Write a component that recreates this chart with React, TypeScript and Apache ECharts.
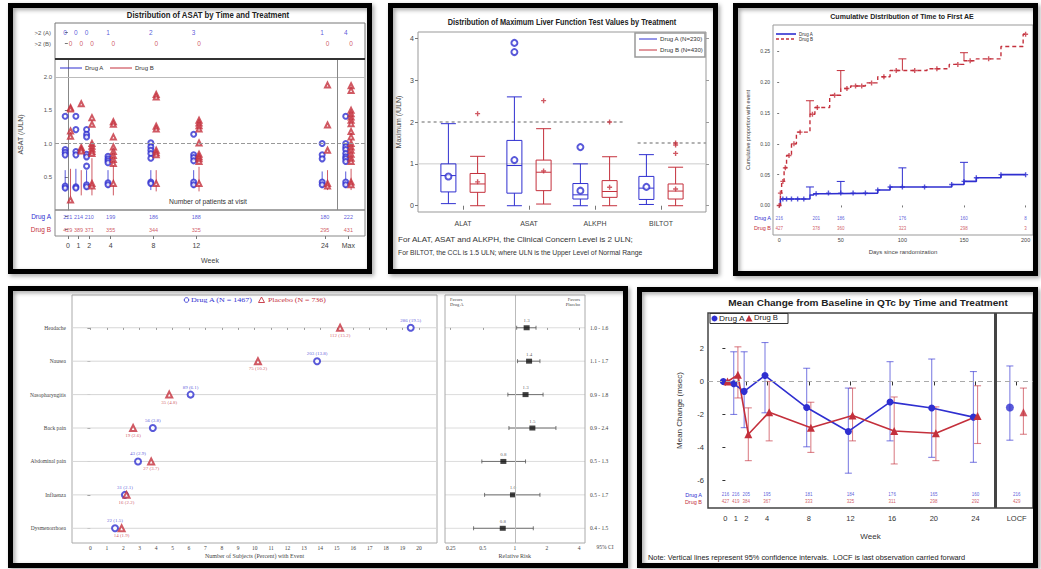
import React, { useEffect, useRef } from 'react';
import * as echarts from 'echarts';

const BLUE = '#2f2fd0';
const RED = '#c4303c';
const SANS = '"Liberation Sans", Arial, Helvetica, sans-serif';
const SERIF = '"Liberation Serif", "Times New Roman", serif';

/* ---------------- Panel 1: ASAT by time ---------------- */
const asatVisits: (number | string)[] = [0, 1, 2, 4, 8, 12, 24, 'Max'];
const asatOver2A = [0, 0, 0, 1, 2, 3, 1, 4];
const asatOver2B = [0, 0, 0, 0, 0, 0, 0, 0];
const asatNA = [221, 214, 210, 199, 186, 188, 180, 222];
const asatNB = [429, 389, 371, 355, 344, 325, 295, 431];
const asatValsA = [
  [1.41, 0.91, 0.87, 0.83, 0.36, 0.33],
  [1.41, 1.21, 0.88, 0.83, 0.35, 0.33],
  [1.21, 1.14, 1.1, 0.84, 0.8, 0.66, 0.38, 0.35],
  [0.81, 0.77, 0.74, 0.71, 0.41, 0.38],
  [1.01, 0.95, 0.9, 0.85, 0.78, 0.42, 0.4],
  [1.14, 0.83, 0.79, 0.74, 0.42, 0.38],
  [1.0, 0.83, 0.77, 0.42, 0.38],
  [1.41, 1.0, 0.95, 0.91, 0.85, 0.8, 0.77, 0.73, 0.42, 0.38],
];
const asatValsB = [
  [1.54, 1.52, 1.19, 1.11, 0.15],
  [1.6, 0.94, 0.91, 0.89],
  [1.39, 1.29, 1.0, 0.96, 0.92, 0.88, 0.85, 0.4, 0.36],
  [1.33, 1.29, 1.1, 0.95, 0.88, 0.82, 0.76, 0.7, 0.4],
  [1.74, 1.7, 1.26, 1.22, 0.9, 0.86, 0.83, 0.4],
  [1.35, 1.31, 1.27, 1.22, 1.01, 0.84, 0.8, 0.77, 0.73, 0.4],
  [1.88, 1.28, 0.9, 0.4, 0.36],
  [1.87, 1.8, 1.5, 1.45, 1.4, 1.35, 1.3, 1.18, 1.1, 1.0, 0.95, 0.9, 0.84, 0.78, 0.73, 0.42, 0.38],
];
const asatSpreadA = [[0.28, 0.6], [0.3, 0.62], [0.3, 0.6], [0.33, 0.6], [0.3, 0.6], [0.33, 0.6], [0.33, 0.58], [0.33, 0.58]];
const asatSpreadB = [[0.2, 0.62], [0.22, 0.6], [0.22, 0.78], [0.22, 0.68], [0.28, 0.6], [0.28, 0.65], [0.3, 0.6], [0.3, 0.62]];
const asatULN = 1;

/* ---------------- Panel 2: max LFT boxplots ---------------- */
const lftTests = ['ALAT', 'ASAT', 'ALKPH', 'BILTOT'];
const lftBoxA = [
  [0.05, 0.33, 0.72, 1.0, 1.96],
  [0, 0.3, 0.96, 1.56, 2.6],
  [0, 0.16, 0.26, 0.53, 1.0],
  [0.03, 0.15, 0.42, 0.7, 1.22],
];
const lftBoxB = [
  [0, 0.32, 0.52, 0.77, 1.18],
  [0.04, 0.36, 0.8, 1.09, 1.84],
  [0, 0.2, 0.34, 0.6, 1.17],
  [0, 0.16, 0.35, 0.52, 0.92],
];
const lftMeanA = [0.7, 1.09, 0.36, 0.45];
const lftMeanB = [0.57, 0.83, 0.44, 0.4];
const lftOutA = [[1, 3.89], [1, 3.67], [2, 1.4]];
const lftOutB = [[0, 2.2], [1, 2.51], [2, 2.0], [3, 1.5], [3, 1.45], [3, 1.25]];
const lftCCL = [2, 2, 2, 1.5];
const lftULN = 1;

/* ---------------- Panel 3: cumulative time to first AE ---------------- */
const kmA = [[0, 0], [1, 0.0104], [25, 0.017], [28, 0.019], [40, 0.02], [80, 0.025], [90, 0.03], [140, 0.034], [150, 0.039], [160, 0.045], [180, 0.05], [200, 0.05]];
const kmB = [[0, 0], [1, 0.02], [2, 0.039], [4, 0.061], [6, 0.081], [10, 0.1], [14, 0.119], [25, 0.148], [29, 0.159], [41, 0.179], [50, 0.19], [58, 0.194], [70, 0.199], [80, 0.209], [90, 0.219], [120, 0.222], [138, 0.229], [150, 0.235], [160, 0.238], [180, 0.258], [198, 0.278], [200, 0.278]];
const censorA = [3, 6, 10, 15, 20, 30, 40, 50, 60, 70, 80, 90, 100, 118, 140, 150, 160, 180, 200];
const censorB = [0, 1, 3, 5, 8, 12, 17, 27, 31, 45, 55, 62, 67, 75, 85, 95, 110, 128, 145, 155, 170, 200];
const kmCiA = [[25, 0.017, 0.03], [50, 0.02, 0.039], [100, 0.03, 0.061], [150, 0.039, 0.07]];
const kmCiB = [[25, 0.148, 0.17], [50, 0.19, 0.219], [100, 0.219, 0.238], [150, 0.235, 0.248]];
const riskDays = [0, 30, 50, 100, 150, 200];
const riskA = [216, 201, 186, 176, 160, 8];
const riskB = [427, 378, 360, 323, 298, 3];
const kmTicksX = [0, 50, 100, 150, 200];
const kmTicksY = [0, 0.05, 0.1, 0.15, 0.2, 0.25];

/* ---------------- Panel 4: AE dot plot + relative risk ---------------- */
const aeTerms = ['Headache', 'Nausea', 'Nasopharyngitis', 'Back pain', 'Abdominal pain', 'Influenza', 'Dysmenorrhoea'];
const aeCountA = [286, 203, 89, 56, 43, 31, 22];
const aePctA = [19.5, 13.8, 6.1, 3.8, 2.9, 2.1, 1.5];
const aeCountP = [112, 75, 35, 19, 27, 16, 14];
const aePctP = [15.2, 10.2, 4.8, 2.6, 3.7, 2.2, 1.9];
const aeRR = [1.29, 1.36, 1.26, 1.46, 0.78, 0.96, 0.77];
const aeRRLow = [1.04, 1.06, 0.86, 0.88, 0.49, 0.52, 0.41];
const aeRRHigh = [1.58, 1.72, 1.84, 2.43, 1.26, 1.72, 1.49];
const aeTicksX = Array.from({ length: 21 }, (_, i) => i);

/* ---------------- Panel 5: QTc mean change ---------------- */
const qtWeeks = [0, 1, 2, 4, 8, 12, 16, 20, 24];
const qtMeanA = [0, -0.14, -0.6, 0.36, -1.58, -3.03, -1.25, -1.61, -2.16];
const qtLoA = [0, -2.0, -2.8, -1.9, -3.96, -5.56, -3.6, -4.6, -4.9];
const qtHiA = [0, 1.8, 1.8, 2.36, 0.8, -0.4, 1.2, 1.36, 0.6];
const qtMeanB = [0, 0.4, -3.2, -1.86, -2.8, -2.06, -3.0, -3.14, -2.1];
const qtLoB = [0, -1.0, -4.8, -3.6, -4.3, -3.6, -5.0, -4.8, -3.76];
const qtHiB = [0, 2.1, -1.6, 0, -1.26, -0.4, -0.94, -1.54, -0.26];
const qtLocfA = [-1.58, -3.56, 0.94];
const qtLocfB = [-1.86, -3.2, -0.4];
const qtNA = [216, 216, 205, 195, 181, 184, 176, 165, 160];
const qtNB = [427, 419, 384, 367, 333, 325, 311, 298, 292];
const qtLocfN = [216, 429];
const qtTicksY = [-6, -4, -2, 0, 2];

/* ---------------- helpers ---------------- */
let measureCtx: CanvasRenderingContext2D | null = null;
function textWidth(text: string, size: number, weight: string, family: string) {
  if (!measureCtx) measureCtx = document.createElement('canvas').getContext('2d');
  if (!measureCtx) return 0;
  measureCtx.font = `${weight} ${size}px ${family}`;
  return measureCtx.measureText(text).width;
}
function label(x: number, y: number, text: string, o: any = {}) {
  const size = o.size ?? 7;
  const weight = o.weight ?? 'normal';
  const family = o.family ?? SANS;
  let scaleX = 1;
  if (o.width) {
    const w = textWidth(text, size, weight, family);
    if (w > 0) scaleX = o.width / w;
  }
  return {
    type: 'text', x, y, scaleX, silent: true, z: 10,
    style: { text, fill: o.color ?? '#222', fontSize: size, fontWeight: weight, fontFamily: family, align: o.align ?? 'left', verticalAlign: 'middle' },
  };
}
function gline(x1: number, y1: number, x2: number, y2: number, stroke: string, lineWidth = 1, dash?: number[]) {
  return { type: 'line', silent: true, z: 10, shape: { x1, y1, x2, y2 }, style: { stroke, lineWidth, lineDash: dash } };
}
function frame(x0: number, y0: number, x1: number, y1: number) {
  return {
    type: 'rect', silent: true, z: 100,
    shape: { x: x0 + 2.5, y: y0 + 2.5, width: x1 - x0 - 5, height: y1 - y0 - 5 },
    style: { fill: 'none', stroke: '#000', lineWidth: 5, shadowBlur: 4, shadowColor: 'rgba(0,0,0,0.35)', shadowOffsetX: 2, shadowOffsetY: 2 },
  };
}
function stepAt(curve: number[][], d: number) {
  let v = curve[0][1];
  for (const p of curve) if (p[0] <= d) v = p[1];
  return v;
}
function vbar(color: string, cap: number, lw: number, both: boolean) {
  return (_p: any, api: any) => {
    const x = api.value(0), lo = api.value(1), hi = api.value(2);
    const a = api.coord([x, lo]);
    const b = api.coord([x, hi]);
    const st = { stroke: color, lineWidth: lw };
    const ch: any[] = [{ type: 'line', shape: { x1: a[0], y1: a[1], x2: b[0], y2: b[1] }, style: st }];
    if (cap > 0) {
      ch.push({ type: 'line', shape: { x1: b[0] - cap / 2, y1: b[1], x2: b[0] + cap / 2, y2: b[1] }, style: st });
      if (both) ch.push({ type: 'line', shape: { x1: a[0] - cap / 2, y1: a[1], x2: a[0] + cap / 2, y2: a[1] }, style: st });
    }
    return { type: 'group', children: ch };
  };
}
function hbar(color: string, cap: number, lw: number) {
  return (_p: any, api: any) => {
    const lo = api.value(0), hi = api.value(1), y = api.value(2);
    const a = api.coord([lo, y]);
    const b = api.coord([hi, y]);
    const st = { stroke: color, lineWidth: lw };
    return {
      type: 'group',
      children: [
        { type: 'line', shape: { x1: a[0], y1: a[1], x2: b[0], y2: b[1] }, style: st },
        { type: 'line', shape: { x1: a[0], y1: a[1] - cap / 2, x2: a[0], y2: a[1] + cap / 2 }, style: st },
        { type: 'line', shape: { x1: b[0], y1: b[1] - cap / 2, x2: b[0], y2: b[1] + cap / 2 }, style: st },
      ],
    };
  };
}
// full-width horizontal reference line at a data y value (data item: [anyX, y])
function hgrid(color: string, lw: number, padL = 0, padR = 0) {
  return (params: any, api: any) => {
    const cs = params.coordSys;
    const p = api.coord([api.value(0), api.value(1)]);
    return { type: 'line', shape: { x1: cs.x - padL, y1: p[1], x2: cs.x + cs.width + padR, y2: p[1] }, style: { stroke: color, lineWidth: lw } };
  };
}
const PLUS = 'path://M3.6,0H6.4V3.6H10V6.4H6.4V10H3.6V6.4H0V3.6H3.6Z';

function buildOption() {
  const grid: any[] = [], xAxis: any[] = [], yAxis: any[] = [], series: any[] = [], graphic: any[] = [];
  const addGrid = (g: any) => { grid.push({ outerBoundsMode: 'none', containLabel: false, ...g }); return grid.length - 1; };
  const addX = (a: any) => { xAxis.push(a); return xAxis.length - 1; };
  const addY = (a: any) => { yAxis.push(a); return yAxis.length - 1; };
  const valAxis = (gi: number, min: number, max: number, extra: any = {}) => ({
    type: 'value', gridIndex: gi, min, max,
    splitLine: { show: false }, axisLine: { show: false }, axisTick: { show: false }, axisLabel: { show: false }, ...extra,
  });
  const catAxis = (gi: number, data: string[], extra: any = {}) => ({
    type: 'category', gridIndex: gi, data,
    splitLine: { show: false }, axisLine: { show: false }, axisTick: { show: false }, axisLabel: { show: false }, ...extra,
  });
  const textPoints = (xi: number, yi: number, data: any[], color: string, size: number, family = SANS) => ({
    type: 'scatter', xAxisIndex: xi, yAxisIndex: yi, data, symbolSize: 1, silent: true, z: 5,
    itemStyle: { color: 'rgba(0,0,0,0)' },
    label: { show: true, position: 'inside', formatter: (p: any) => String(p.value[2]), color, fontSize: size, fontFamily: family },
  });
  const noLine = { silent: true, symbol: ['none', 'none'], label: { show: false } };

  /* ===== Panel 1 ===== */
  const P1_MIN = -1.2, P1_MAX = 27.75, P1_MAXPOS = 26.2, P1_SEP = 25.2, P1_DODGE = 0.25;
  const vx = (v: number | string) => (v === 'Max' ? P1_MAXPOS : (v as number));
  const visitPos = asatVisits.map(vx);

  const g1a = addGrid({ left: 55, top: 27, width: 310, height: 22 });
  const x1a = addX(valAxis(g1a, P1_MIN, P1_MAX));
  const y1a = addY(catAxis(g1a, ['>2 (A)', '>2 (B)'], {
    inverse: true,
    axisTick: { show: true, alignWithLabel: true, length: 3, lineStyle: { color: '#777' } },
    axisLabel: { show: true, interval: 0, fontSize: 6, color: '#555', margin: 4 },
  }));
  series.push(textPoints(x1a, y1a, asatVisits.map((v, i) => [vx(v) - P1_DODGE, '>2 (A)', asatOver2A[i]]), BLUE, 6.5));
  series.push(textPoints(x1a, y1a, asatVisits.map((v, i) => [vx(v) + P1_DODGE, '>2 (B)', asatOver2B[i]]), RED, 6.5));

  const g1b = addGrid({ left: 55, top: 59, width: 310, height: 151, show: true, borderColor: '#888', borderWidth: 1 });
  const x1b = addX(valAxis(g1b, P1_MIN, P1_MAX));
  const asatTicks = [0.5, 1, 1.5, 2];
  const y1b = addY(valAxis(g1b, 0, 2.273, {
    axisLine: { show: true, lineStyle: { color: '#888' } },
    axisTick: { show: true, customValues: asatTicks, length: 3, lineStyle: { color: '#777' } },
    axisLabel: { show: true, customValues: asatTicks, formatter: (v: number) => v.toFixed(1), fontSize: 6, color: '#555', margin: 3 },
    name: 'ASAT (/ULN)', nameLocation: 'middle', nameGap: 31, nameTextStyle: { fontSize: 7, color: '#444' },
  }));
  series.push({
    type: 'scatter', xAxisIndex: x1b, yAxisIndex: y1b, silent: true, z: 4,
    data: asatVisits.flatMap((v, i) => asatValsA[i].map((y) => [vx(v) - P1_DODGE, y])),
    symbol: 'emptyCircle', symbolSize: 5, itemStyle: { color: BLUE, borderWidth: 0.8 },
    markLine: {
      ...noLine,
      data: [
        { yAxis: 2, lineStyle: { color: '#bbb', width: 1, type: 'solid' } },
        { yAxis: asatULN, lineStyle: { color: '#999', width: 1, type: 'dashed' } },
        { xAxis: P1_SEP, lineStyle: { color: '#888', width: 1, type: 'solid' } },
      ],
    },
  });
  series.push({
    type: 'scatter', xAxisIndex: x1b, yAxisIndex: y1b, silent: true, z: 4,
    data: asatVisits.flatMap((v, i) => asatValsB[i].map((y) => [vx(v) + P1_DODGE, y])),
    symbol: 'emptyTriangle', symbolSize: 5, itemStyle: { color: RED, borderWidth: 0.8 },
  });
  series.push({
    type: 'custom', xAxisIndex: x1b, yAxisIndex: y1b, silent: true, z: 3, encode: { x: 0, y: [1, 2] },
    renderItem: vbar(BLUE, 0, 0.8, false),
    data: asatVisits.map((v, i) => [vx(v) - P1_DODGE, asatSpreadA[i][0], asatSpreadA[i][1]]),
  });
  series.push({
    type: 'custom', xAxisIndex: x1b, yAxisIndex: y1b, silent: true, z: 3, encode: { x: 0, y: [1, 2] },
    renderItem: vbar(RED, 0, 0.8, false),
    data: asatVisits.map((v, i) => [vx(v) + P1_DODGE, asatSpreadB[i][0], asatSpreadB[i][1]]),
  });

  const g1c = addGrid({ left: 55, top: 210, width: 310, height: 26, show: true, borderColor: '#888', borderWidth: 1 });
  const x1c = addX(valAxis(g1c, P1_MIN, P1_MAX, {
    axisTick: { show: true, customValues: visitPos, length: 3, lineStyle: { color: '#777' } },
    axisLabel: { show: true, customValues: visitPos, formatter: (v: number) => (v === P1_MAXPOS ? 'Max' : String(v)), fontSize: 7, color: '#444', margin: 6 },
    name: 'Week', nameLocation: 'middle', nameGap: 21, nameTextStyle: { fontSize: 7, color: '#444' },
  }));
  const y1c = addY(catAxis(g1c, ['Drug A', 'Drug B'], {
    inverse: true,
    axisTick: { show: true, alignWithLabel: true, length: 3, lineStyle: { color: '#777' } },
    axisLabel: { show: true, interval: 0, fontSize: 6.5, margin: 4, color: (v: string) => (v === 'Drug A' ? BLUE : RED) },
  }));
  series.push(textPoints(x1c, y1c, asatVisits.map((v, i) => [vx(v), 'Drug A', asatNA[i]]), BLUE, 5.5));
  series.push(textPoints(x1c, y1c, asatVisits.map((v, i) => [vx(v), 'Drug B', asatNB[i]]), RED, 5.5));

  graphic.push({ type: 'rect', silent: true, z: 9, shape: { x: 55, y: 23, width: 310, height: 36 }, style: { fill: 'none', stroke: '#777', lineWidth: 1 } });
  graphic.push(gline(55, 59, 365, 59, '#333', 2));
  graphic.push(label(208, 15, 'Distribution of ASAT by Time and Treatment', { size: 9, weight: 'bold', align: 'center', width: 163 }));
  graphic.push(gline(60, 68, 82, 68, BLUE, 1));
  graphic.push(label(85, 68, 'Drug A', { size: 6, color: '#333' }));
  graphic.push(gline(110, 68, 132, 68, RED, 1));
  graphic.push(label(135, 68, 'Drug B', { size: 6, color: '#333' }));
  graphic.push(label(208, 202, 'Number of patients at visit', { size: 6.5, align: 'center', width: 78, color: '#333' }));

  /* ===== Panel 2 ===== */
  const P2_YMIN = -0.15, P2_YMAX = 4.15;
  const lftTicks = [0, 1, 2, 3, 4];
  const g2f = addGrid({ left: 418, top: 32, width: 288, height: 180, show: true, borderColor: '#999', borderWidth: 1 });
  const x2f = addX(valAxis(g2f, 0, lftTests.length));
  const y2f = addY(valAxis(g2f, P2_YMIN, P2_YMAX, {
    axisTick: { show: true, customValues: lftTicks, length: 3, lineStyle: { color: '#777' } },
    axisLabel: { show: true, customValues: lftTicks, fontSize: 7, color: '#444', margin: 4 },
    name: 'Maximum (/ULN)', nameLocation: 'middle', nameGap: 16, nameTextStyle: { fontSize: 7, color: '#444' },
  }));
  addY(valAxis(g2f, P2_YMIN, P2_YMAX, { position: 'right', axisTick: { show: true, customValues: lftTicks, length: 3, lineStyle: { color: '#999' } } }));
  series.push({ type: 'line', xAxisIndex: x2f, yAxisIndex: y2f, silent: true, z: 1, symbol: 'none', data: [[0, lftULN], [lftTests.length, lftULN]], lineStyle: { color: '#ccc', width: 1 } });
  let runStart = 0;
  for (let i = 1; i <= lftCCL.length; i++) {
    if (i === lftCCL.length || lftCCL[i] !== lftCCL[runStart]) {
      const xEnd = i === lftCCL.length ? lftTests.length : i - 0.15;
      series.push({
        type: 'line', xAxisIndex: x2f, yAxisIndex: y2f, silent: true, z: 1, symbol: 'none',
        data: [[runStart + 0.05, lftCCL[runStart]], [xEnd, lftCCL[runStart]]],
        lineStyle: { color: '#999', width: 1.5, type: [3, 3] },
      });
      runStart = i;
    }
  }
  const g2b = addGrid({ left: 430, top: 32, width: 264, height: 180 });
  const x2b = addX(catAxis(g2b, lftTests, {
    axisTick: { show: true, alignWithLabel: true, length: 4, lineStyle: { color: '#777' } },
    axisLabel: { show: true, interval: 0, fontSize: 7, color: '#444', margin: 8 },
  }));
  const y2b = addY(valAxis(g2b, P2_YMIN, P2_YMAX));
  series.push({ type: 'boxplot', xAxisIndex: x2b, yAxisIndex: y2b, silent: true, z: 3, data: lftBoxA, boxWidth: [15, 15], itemStyle: { color: 'rgba(0,0,0,0)', borderColor: BLUE, borderWidth: 1 }, emphasis: { disabled: true } });
  series.push({ type: 'boxplot', xAxisIndex: x2b, yAxisIndex: y2b, silent: true, z: 3, data: lftBoxB, boxWidth: [15, 15], itemStyle: { color: 'rgba(0,0,0,0)', borderColor: RED, borderWidth: 1 }, emphasis: { disabled: true } });
  const OFF = 14.6;
  series.push({ type: 'scatter', xAxisIndex: x2b, yAxisIndex: y2b, silent: true, z: 4, symbol: 'emptyCircle', symbolSize: 6, symbolOffset: [-OFF, 0], itemStyle: { color: BLUE, borderWidth: 1 }, data: [...lftMeanA.map((m, i) => [i, m]), ...lftOutA] });
  series.push({ type: 'scatter', xAxisIndex: x2b, yAxisIndex: y2b, silent: true, z: 4, symbol: PLUS, symbolSize: 5, symbolOffset: [OFF, 0], itemStyle: { color: RED }, data: [...lftMeanB.map((m, i) => [i, m]), ...lftOutB] });

  graphic.push(label(562, 22, 'Distribution of Maximum Liver Function Test Values by Treatment', { size: 8.5, weight: 'bold', align: 'center', width: 229 }));
  graphic.push({ type: 'rect', silent: true, z: 9, shape: { x: 635, y: 33, width: 70, height: 24 }, style: { fill: '#fff', stroke: '#999', lineWidth: 1.5 } });
  graphic.push(gline(639, 39, 657, 39, BLUE, 1));
  graphic.push(label(660, 39, 'Drug A (N=230)', { size: 5.5, width: 43, color: '#333' }));
  graphic.push(gline(639, 50, 657, 50, RED, 1));
  graphic.push(label(660, 50, 'Drug B (N=430)', { size: 5.5, width: 43, color: '#333' }));
  graphic.push(label(398, 240, 'For ALAT, ASAT and ALKPH, the Clinical Concern Level is 2 ULN;', { size: 7, width: 237, color: '#333' }));
  graphic.push(label(398, 252, 'For BILTOT, the CCL is 1.5 ULN; where ULN is the Upper Level of Normal Range', { size: 7, width: 245, color: '#333' }));

  /* ===== Panel 3 ===== */
  const P3_XMIN = -5, P3_XMAX = 206;
  const g3 = addGrid({ left: 773, top: 25, width: 260, height: 210, show: true, borderColor: '#999', borderWidth: 1 });
  const x3 = addX(valAxis(g3, P3_XMIN, P3_XMAX, {
    axisTick: { show: true, customValues: kmTicksX, length: 2, lineStyle: { color: '#777' } },
    axisLabel: { show: true, customValues: kmTicksX, fontSize: 5.5, color: '#444', margin: 2 },
    name: 'Days since randomization', nameLocation: 'middle', nameGap: 14, nameTextStyle: { fontSize: 6, color: '#444' },
  }));
  const y3 = addY(valAxis(g3, -0.048, 0.293, {
    axisTick: { show: true, customValues: kmTicksY, length: 2, lineStyle: { color: '#777' } },
    axisLabel: { show: true, customValues: kmTicksY, formatter: (v: number) => v.toFixed(2), fontSize: 5, color: '#444', margin: 3 },
    name: 'Cumulative proportion with event', nameLocation: 'middle', nameGap: 22, nameTextStyle: { fontSize: 5.5, color: '#444' },
  }));
  series.push({ type: 'line', xAxisIndex: x3, yAxisIndex: y3, silent: true, z: 3, step: 'end', symbol: 'none', data: kmA, lineStyle: { color: BLUE, width: 1.6 } });
  series.push({ type: 'line', xAxisIndex: x3, yAxisIndex: y3, silent: true, z: 3, step: 'end', symbol: 'none', data: kmB, lineStyle: { color: RED, width: 1.4, type: [4, 3] } });
  series.push({ type: 'scatter', xAxisIndex: x3, yAxisIndex: y3, silent: true, z: 4, symbol: PLUS, symbolSize: 5, itemStyle: { color: BLUE }, data: censorA.map((d) => [d, stepAt(kmA, d)]) });
  series.push({ type: 'scatter', xAxisIndex: x3, yAxisIndex: y3, silent: true, z: 4, symbol: PLUS, symbolSize: 5, itemStyle: { color: RED }, data: censorB.map((d) => [d, stepAt(kmB, d)]) });
  series.push({ type: 'custom', xAxisIndex: x3, yAxisIndex: y3, silent: true, z: 3, encode: { x: 0, y: [1, 2] }, renderItem: vbar(BLUE, 8, 1, false), data: kmCiA });
  series.push({ type: 'custom', xAxisIndex: x3, yAxisIndex: y3, silent: true, z: 3, encode: { x: 0, y: [1, 2] }, renderItem: vbar(RED, 8, 1, false), data: kmCiB });
  const g3c = addGrid({ left: 773, top: 213, width: 260, height: 20 });
  const x3c = addX(valAxis(g3c, P3_XMIN, P3_XMAX));
  const y3c = addY(catAxis(g3c, ['Drug A', 'Drug B'], {
    inverse: true,
    axisLabel: { show: true, interval: 0, fontSize: 5.5, margin: 2, color: (v: string) => (v === 'Drug A' ? BLUE : RED) },
  }));
  series.push(textPoints(x3c, y3c, riskDays.map((d, i) => [d, 'Drug A', riskA[i]]), BLUE, 4.5));
  series.push(textPoints(x3c, y3c, riskDays.map((d, i) => [d, 'Drug B', riskB[i]]), RED, 4.5));

  graphic.push(label(902, 16, 'Cumulative Distribution of Time to First AE', { size: 7.5, weight: 'bold', align: 'center', width: 144 }));
  graphic.push(gline(776, 34, 796, 34, BLUE, 1.6));
  graphic.push(label(799, 34, 'Drug A', { size: 4.5, color: '#333' }));
  graphic.push(gline(776, 39, 796, 39, RED, 1.3, [3, 2]));
  graphic.push(label(799, 39, 'Drug B', { size: 4.5, color: '#333' }));

  /* ===== Panel 4 ===== */
  const P4_YMIN = -0.98, P4_YMAX = 6.44;
  const termIdx = aeTerms.map((_, i) => i);
  const g4L = addGrid({ left: 72, top: 295, width: 365, height: 248, show: true, borderColor: '#aaa', borderWidth: 1 });
  const x4L = addX(valAxis(g4L, -1.12, 21.1, {
    axisTick: { show: true, customValues: aeTicksX, length: 2, lineStyle: { color: '#888' } },
    axisLabel: { show: true, customValues: aeTicksX, fontSize: 5.5, fontFamily: SERIF, color: '#444', margin: 2 },
    name: 'Number of Subjects (Percent) with Event', nameLocation: 'middle', nameGap: 10, nameTextStyle: { fontSize: 6, fontFamily: SERIF, color: '#444' },
  }));
  const y4L = addY(valAxis(g4L, P4_YMIN, P4_YMAX, {
    inverse: true,
    axisTick: { show: true, customValues: termIdx, length: 3, lineStyle: { color: '#888' } },
    axisLabel: { show: true, customValues: termIdx, formatter: (v: number) => aeTerms[v] ?? '', fontSize: 5.5, fontFamily: SERIF, color: '#444', margin: 6 },
  }));
  series.push({
    type: 'custom', xAxisIndex: x4L, yAxisIndex: y4L, silent: true, z: 1, encode: { x: 0, y: 1 },
    renderItem: hgrid('#d6d6d6', 1), data: termIdx.map((i) => [0, i]),
  });
  series.push({
    type: 'scatter', xAxisIndex: x4L, yAxisIndex: y4L, silent: true, z: 4, symbol: 'emptyCircle', symbolSize: 6,
    itemStyle: { color: BLUE, borderWidth: 1 },
    data: aePctA.map((p, i) => [p, i, `${aeCountA[i]} (${p.toFixed(1)})`]),
    label: { show: true, position: 'top', distance: 1, formatter: (q: any) => q.value[2], fontSize: 5, fontFamily: SERIF, color: BLUE },
  });
  series.push({
    type: 'scatter', xAxisIndex: x4L, yAxisIndex: y4L, silent: true, z: 4, symbol: 'emptyTriangle', symbolSize: 6,
    itemStyle: { color: RED, borderWidth: 1 },
    data: aePctP.map((p, i) => [p, i, `${aeCountP[i]} (${p.toFixed(1)})`]),
    label: { show: true, position: 'bottom', distance: 1, formatter: (q: any) => q.value[2], fontSize: 5, fontFamily: SERIF, color: RED },
  });
  const g4R = addGrid({ left: 450.7, top: 295, width: 128.3, height: 248 });
  const x4R = addX({
    type: 'log', logBase: 2, gridIndex: g4R, min: 0.25, max: 4,
    splitLine: { show: false }, axisLine: { show: false }, minorTick: { show: false },
    axisTick: { show: true, length: 2, lineStyle: { color: '#888' } },
    axisLabel: { show: true, fontSize: 5.5, fontFamily: SERIF, color: '#444', margin: 2 },
    name: 'Relative Risk', nameLocation: 'middle', nameGap: 10, nameTextStyle: { fontSize: 6, fontFamily: SERIF, color: '#444' },
  });
  const y4R = addY(valAxis(g4R, P4_YMIN, P4_YMAX, { inverse: true }));
  addY(valAxis(g4R, P4_YMIN, P4_YMAX, {
    inverse: true, position: 'right',
    axisLabel: { show: true, customValues: termIdx, formatter: (v: number) => `${aeRRLow[v].toFixed(1)} - ${aeRRHigh[v].toFixed(1)}`, fontSize: 5.5, fontFamily: SERIF, color: '#444', margin: 11 },
  }));
  series.push({
    type: 'custom', xAxisIndex: x4R, yAxisIndex: y4R, silent: true, z: 1, encode: { x: 0, y: 1 },
    renderItem: hgrid('#dcdcdc', 1, 5.7, 6), data: termIdx.map((i) => [1, i]),
  });
  series.push({
    type: 'custom', xAxisIndex: x4R, yAxisIndex: y4R, silent: true, z: 3, encode: { x: [0, 1], y: 2 },
    renderItem: hbar('#555', 4, 0.8),
    data: termIdx.map((i) => [aeRRLow[i], aeRRHigh[i], i]),
  });
  series.push({
    type: 'scatter', xAxisIndex: x4R, yAxisIndex: y4R, silent: true, z: 4, symbol: 'rect', symbolSize: [6, 5],
    itemStyle: { color: '#111' },
    data: aeRR.map((r, i) => [r, i]),
    label: { show: true, position: 'top', distance: 2, formatter: (q: any) => q.value[0].toFixed(1), fontSize: 5, fontFamily: SERIF, color: '#333' },
    markLine: { ...noLine, data: [{ xAxis: 1, lineStyle: { color: '#bbb', width: 1, type: 'solid' } }] },
  });
  graphic.push({ type: 'rect', silent: true, z: 9, shape: { x: 445, y: 295, width: 140, height: 248 }, style: { fill: 'none', stroke: '#aaa', lineWidth: 1 } });
  graphic.push({ type: 'circle', silent: true, z: 10, shape: { cx: 186.5, cy: 300, r: 2.3 }, style: { fill: '#fff', stroke: BLUE, lineWidth: 0.9 } });
  graphic.push(label(191, 300, 'Drug A (N = 1467)', { size: 5.5, family: SERIF, color: BLUE, width: 62 }));
  graphic.push({ type: 'polygon', silent: true, z: 10, shape: { points: [[261.5, 297], [264.5, 302.5], [258.5, 302.5]] }, style: { fill: '#fff', stroke: RED, lineWidth: 0.9 } });
  graphic.push(label(268, 300, 'Placebo (N = 736)', { size: 5.5, family: SERIF, color: RED, width: 58 }));
  graphic.push(label(450, 299, 'Favors', { size: 4.5, family: SERIF, color: '#444' }));
  graphic.push(label(450, 304, 'Drug A', { size: 4.5, family: SERIF, color: '#444' }));
  graphic.push(label(580, 299, 'Favors', { size: 4.5, family: SERIF, color: '#444', align: 'right' }));
  graphic.push(label(580, 304, 'Placebo', { size: 4.5, family: SERIF, color: '#444', align: 'right' }));
  graphic.push(label(605, 547, '95% CI', { size: 5.5, family: SERIF, color: '#444', align: 'center' }));

  /* ===== Panel 5 ===== */
  const P5_XMIN = -1.67, P5_XMAX = 29.52, LOCF_POS = 27.95, P5_SEP = 25.9, P5_DODGE = 0.2, LOCF_DODGE = 0.65;
  const qtTickPos = [...qtWeeks, LOCF_POS];
  const g5 = addGrid({ left: 708, top: 313, width: 325, height: 195, show: true, borderColor: '#444', borderWidth: 1.5 });
  const x5 = addX(valAxis(g5, P5_XMIN, P5_XMAX, {
    axisTick: { show: true, customValues: qtTickPos, length: 4, lineStyle: { color: '#333' } },
    axisLabel: { show: true, customValues: qtTickPos, formatter: (v: number) => (v === LOCF_POS ? 'LOCF' : String(v)), fontSize: 7.5, color: '#333', margin: 6 },
    name: 'Week', nameLocation: 'middle', nameGap: 24, nameTextStyle: { fontSize: 8, color: '#333' },
  }));
  const y5 = addY(valAxis(g5, -7.67, 4.15, {
    axisTick: { show: true, customValues: qtTicksY, length: 3, lineStyle: { color: '#333' } },
    axisLabel: { show: true, customValues: qtTicksY, fontSize: 7.5, color: '#333', margin: 4 },
    name: 'Mean Change (msec)', nameLocation: 'middle', nameGap: 25, nameTextStyle: { fontSize: 8, color: '#333' },
  }));
  const ciA = qtWeeks.map((w, i) => [w - P5_DODGE, qtLoA[i], qtHiA[i]]).filter((d) => d[1] !== d[2]);
  const ciB = qtWeeks.map((w, i) => [w + P5_DODGE, qtLoB[i], qtHiB[i]]).filter((d) => d[1] !== d[2]);
  series.push({ type: 'custom', xAxisIndex: x5, yAxisIndex: y5, silent: true, z: 2, encode: { x: 0, y: [1, 2] }, renderItem: vbar('rgba(47,47,208,0.6)', 7, 1.1, true), data: [...ciA, [LOCF_POS - LOCF_DODGE, qtLocfA[1], qtLocfA[2]]] });
  series.push({ type: 'custom', xAxisIndex: x5, yAxisIndex: y5, silent: true, z: 2, encode: { x: 0, y: [1, 2] }, renderItem: vbar('rgba(196,48,60,0.6)', 7, 1.1, true), data: [...ciB, [LOCF_POS + LOCF_DODGE, qtLocfB[1], qtLocfB[2]]] });
  series.push({
    type: 'line', xAxisIndex: x5, yAxisIndex: y5, silent: true, z: 4, symbol: 'circle', symbolSize: 7,
    data: qtWeeks.map((w, i) => [w - P5_DODGE, qtMeanA[i]]),
    itemStyle: { color: BLUE }, lineStyle: { color: BLUE, width: 1.6 },
    markLine: {
      ...noLine,
      data: [
        { yAxis: 0, lineStyle: { color: '#aaa', width: 1, type: [5, 4] } },
        { xAxis: P5_SEP, lineStyle: { color: '#444', width: 3, type: 'solid' } },
      ],
    },
  });
  series.push({
    type: 'line', xAxisIndex: x5, yAxisIndex: y5, silent: true, z: 4, symbol: 'triangle', symbolSize: 8,
    data: qtWeeks.map((w, i) => [w + P5_DODGE, qtMeanB[i]]),
    itemStyle: { color: RED }, lineStyle: { color: RED, width: 1.6 },
  });
  series.push({ type: 'scatter', xAxisIndex: x5, yAxisIndex: y5, silent: true, z: 4, symbol: 'circle', symbolSize: 8, itemStyle: { color: BLUE }, data: [[LOCF_POS - LOCF_DODGE, qtLocfA[0]]] });
  series.push({ type: 'scatter', xAxisIndex: x5, yAxisIndex: y5, silent: true, z: 4, symbol: 'triangle', symbolSize: 8, itemStyle: { color: RED }, data: [[LOCF_POS + LOCF_DODGE, qtLocfB[0]]] });
  const g5c = addGrid({ left: 708, top: 491, width: 325, height: 14 });
  const x5c = addX(valAxis(g5c, P5_XMIN, P5_XMAX));
  const y5c = addY(catAxis(g5c, ['Drug A', 'Drug B'], {
    inverse: true,
    axisLabel: { show: true, interval: 0, hideOverlap: false, fontSize: 5.5, margin: 6, color: (v: string) => (v === 'Drug A' ? BLUE : RED) },
  }));
  series.push(textPoints(x5c, y5c, [...qtWeeks.map((w, i) => [w, 'Drug A', qtNA[i]]), [LOCF_POS, 'Drug A', qtLocfN[0]]], BLUE, 4.5));
  series.push(textPoints(x5c, y5c, [...qtWeeks.map((w, i) => [w, 'Drug B', qtNB[i]]), [LOCF_POS, 'Drug B', qtLocfN[1]]], RED, 4.5));

  graphic.push(label(868, 303, 'Mean Change from Baseline in QTc by Time and Treatment', { size: 9.5, weight: 'bold', align: 'center', width: 280 }));
  graphic.push({ type: 'rect', silent: true, z: 9, shape: { x: 710, y: 313.5, width: 78, height: 10 }, style: { fill: '#fff', stroke: '#333', lineWidth: 1 } });
  graphic.push({ type: 'circle', silent: true, z: 10, shape: { cx: 714.5, cy: 318.5, r: 3 }, style: { fill: BLUE } });
  graphic.push(label(719, 318.5, 'Drug A', { size: 6.5, color: '#222', width: 26 }));
  graphic.push({ type: 'polygon', silent: true, z: 10, shape: { points: [[749, 315], [752.5, 321.5], [745.5, 321.5]] }, style: { fill: RED } });
  graphic.push(label(754, 318.5, 'Drug B', { size: 6.5, color: '#222', width: 24 }));
  graphic.push(label(648, 558, 'Note: Vertical lines represent 95% confidence intervals.  LOCF is last observation carried forward', { size: 6.5, width: 318, color: '#222' }));

  /* ===== Frames ===== */
  graphic.push(frame(8, 3, 372, 274));
  graphic.push(frame(388, 3, 718, 274));
  graphic.push(frame(733, 3, 1038, 276));
  graphic.push(frame(8, 286, 628, 568));
  graphic.push(frame(637, 287, 1038, 568));

  return {
    animation: false,
    backgroundColor: '#fff',
    textStyle: { fontFamily: SANS },
    grid, xAxis, yAxis, series,
    graphic: { elements: graphic },
  };
}

export default function App() {
  const ref = useRef<HTMLDivElement>(null);
  useEffect(() => {
    if (!ref.current) return;
    const chart = echarts.init(ref.current, undefined, { renderer: 'svg' });
    chart.setOption(buildOption() as any);
    return () => chart.dispose();
  }, []);
  return <div ref={ref} style={{ position: 'absolute', left: 0, top: 0, width: 1041, height: 569, background: '#fff' }} />;
}
